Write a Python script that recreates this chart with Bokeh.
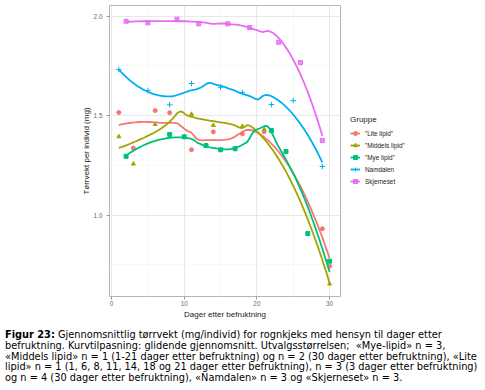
import numpy as np
from bokeh.plotting import figure
from bokeh.models import Legend, LegendItem, Div, FixedTicker, PrintfTickFormatter
from bokeh.layouts import column, row
from bokeh.embed import file_html
from bokeh.resources import INLINE

# ---- data ----
groups = ['"Lite lipid"', '"Middels lipid"', '"Mye lipid"', 'Namdalen', 'Skjerneset']
colors = ["#F8766D", "#A3A500", "#00BF7D", "#00B0F6", "#E76BF3"]
markers = ["circle", "triangle", "square", "cross", "square_x"]

lite_days = [1, 3, 6, 8, 11, 14, 18, 21, 29, 30]
lite_vals = [1.516, 1.337, 1.526, 1.515, 1.329, 1.419, 1.409, 1.42, 0.932, 0.744]
middels_days = [1, 3, 6, 11, 14, 18, 21, 30]
middels_vals = [1.395, 1.258, 1.457, 1.508, 1.452, 1.447, 1.431, 0.655]
mye_days = [2, 8, 10, 13, 15, 17, 22, 24, 27, 30]
mye_vals = [1.296, 1.406, 1.394, 1.35, 1.329, 1.334, 1.426, 1.32, 0.908, 0.769]
namdalen_days = [1, 5, 8, 11, 15, 18, 22, 25, 29]
namdalen_vals = [1.732, 1.627, 1.555, 1.662, 1.643, 1.617, 1.556, 1.576, 1.245]
skjerneset_days = [2, 5, 9, 12, 16, 19, 23, 26, 29]
skjerneset_vals = [1.975, 1.967, 1.985, 1.962, 1.962, 1.943, 1.869, 1.767, 1.375]

x_ticks = [0, 10, 20, 30]
y_ticks = [1.0, 1.5, 2.0]

series = [(lite_days, lite_vals), (middels_days, middels_vals), (mye_days, mye_vals),
          (namdalen_days, namdalen_vals), (skjerneset_days, skjerneset_vals)]


def loess(x, y, xs, span=0.75):
    x = np.asarray(x, float)
    y = np.asarray(y, float)
    n = len(x)
    q = int(np.floor(n * span))
    out = []
    for x0 in xs:
        d = np.abs(x - x0)
        h = np.sort(d)[q - 1] * 1.0000001
        w = np.clip(1 - (d / h) ** 3, 0, None) ** 3
        X = np.vstack([np.ones(n), x - x0, (x - x0) ** 2]).T
        XtW = X.T * w
        beta = np.linalg.lstsq(XtW @ X, XtW @ y, rcond=None)[0]
        out.append(beta[0])
    return np.array(out)


FONT = "Liberation Sans"
H = 322

p = figure(width=341, height=H, x_range=(-0.28, 31.5), y_range=(0.5915, 2.054),
           output_backend="svg", toolbar_location=None,
           min_border_left=109, min_border_right=1, min_border_top=5, min_border_bottom=26)

p.background_fill_color = "white"
p.outline_line_color = "#b5b5b5"
p.outline_line_width = 1

p.xaxis.ticker = FixedTicker(ticks=x_ticks, minor_ticks=[5, 15, 25])
p.yaxis.ticker = FixedTicker(ticks=y_ticks, minor_ticks=[0.75, 1.25, 1.75])
p.yaxis.formatter = PrintfTickFormatter(format="%.1f")
for g in (p.xgrid, p.ygrid):
    g.grid_line_color = "#e8e8e8"
    g.grid_line_width = 1
    g.minor_grid_line_color = "#f3f3f3"
    g.minor_grid_line_width = 0.6

for ax in (p.xaxis, p.yaxis):
    ax.axis_line_color = None
    ax.major_tick_line_color = "#999999"
    ax.major_tick_out = 3
    ax.major_tick_in = 0
    ax.minor_tick_line_color = None
    ax.major_label_text_font = FONT
    ax.major_label_text_font_size = "6.4px"
    ax.major_label_text_color = "#6a6a6a"
    ax.axis_label_text_font = FONT
    ax.axis_label_text_font_size = "8px"
    ax.axis_label_text_font_style = "normal"
    ax.axis_label_text_color = "#222222"

p.xaxis.major_label_standoff = 0
p.xaxis.axis_label_standoff = 1
p.yaxis.major_label_standoff = 3
p.yaxis.axis_label_standoff = 0

p.xaxis.axis_label = "Dager etter befruktning"
p.yaxis.axis_label = "Tørrvekt per individ (mg)"

# legend panel (separate figure to the right of the plot)
lf = figure(width=144, height=H, x_range=(0, 1), y_range=(0, 1),
            output_backend="svg", toolbar_location=None,
            min_border_left=0, min_border_right=0, min_border_top=0, min_border_bottom=0)
lf.axis.visible = False
lf.grid.visible = False
lf.outline_line_color = None

items = []
for (days, vals), name, col, mk in zip(series, groups, colors, markers):
    xs = np.linspace(min(days), max(days), 80)
    ys = loess(days, vals, xs)
    p.line(xs, ys, line_color=col, line_width=1.8)
    kw = dict(marker=mk, line_color=col, fill_color=col)
    if mk == "cross":
        kw.update(size=5.5, line_width=1)
    elif mk == "square_x":
        kw.update(size=4, fill_alpha=0.5, line_width=1)
    else:
        kw.update(size=4)
    p.scatter(days, vals, **kw)
    # legend keys (one off-screen point so the key glyphs get drawn)
    ll = lf.line(x=[-5, -4], y=[-5, -5], line_color=col, line_width=1.8)
    lp = lf.scatter(x=[-5], y=[-5], **kw)
    items.append(LegendItem(label=name, renderers=[ll, lp]))

legend = Legend(items=items, title="Gruppe", location=(9, 110))
legend.background_fill_alpha = 0
legend.border_line_color = None
legend.label_text_font = FONT
legend.label_text_font_size = "6.4px"
legend.label_text_color = "#222222"
legend.title_text_font = FONT
legend.title_text_font_size = "8px"
legend.title_text_font_style = "normal"
legend.title_text_color = "#222222"
legend.glyph_width = 10
legend.glyph_height = 10
legend.label_height = 10
legend.label_standoff = 5
legend.spacing = 2
legend.padding = 0
legend.margin = 0
legend.title_standoff = 4
lf.add_layout(legend, "center")

caption_html = (
    "<b>Figur 23:</b> Gjennomsnittlig tørrvekt (mg/individ) for rognkjeks med hensyn til dager etter<br>"
    "befruktning. Kurvtilpasning: glidende gjennomsnitt. Utvalgsstørrelsen;&nbsp; «Mye-lipid» n = 3,<br>"
    "«Middels lipid» n = 1 (1-21 dager etter befruktning) og n = 2 (30 dager etter befruktning), «Lite<br>"
    "lipid» n = 1 (1, 6, 8, 11, 14, 18 og 21 dager etter befruktning), n = 3 (3 dager etter befruktning)<br>"
    "og n = 4 (30 dager etter befruktning), «Namdalen» n = 3 og «Skjerneset» n = 3."
)
cap = Div(text=caption_html, width=478, height=58, margin=(8, 0, 0, 5),
          styles={"font-family": "DejaVu Sans", "font-size": "9.8px", "line-height": "10.75px",
                  "color": "#000000", "white-space": "nowrap"})

layout = column(row(p, lf, spacing=0), cap, spacing=0)
open("out.html", "w").write(file_html(layout, INLINE))
